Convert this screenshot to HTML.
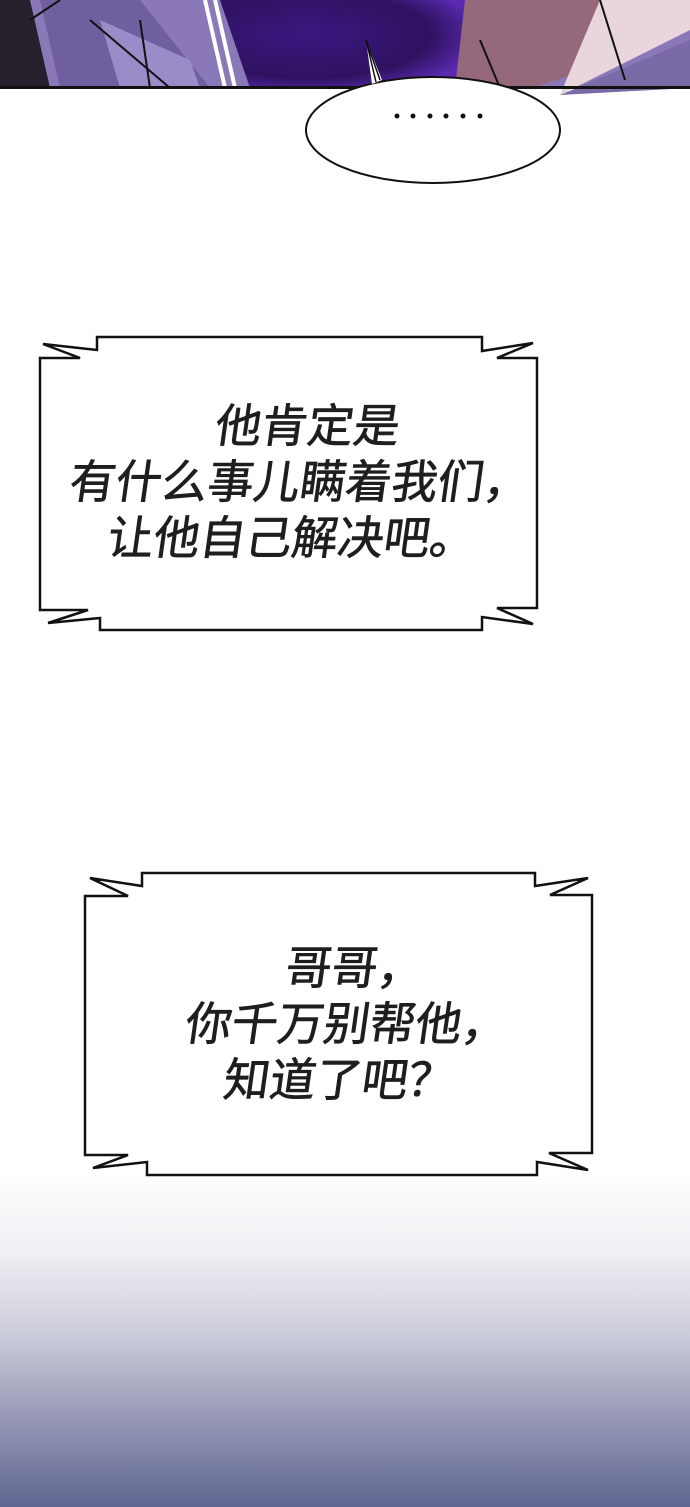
<!DOCTYPE html>
<html><head><meta charset="utf-8"><style>
html,body{margin:0;padding:0}
body{width:690px;height:1507px;position:relative;overflow:hidden;background:#fff;font-family:"Liberation Sans","Noto Sans CJK SC",sans-serif}
.t{position:absolute;left:0;width:690px;text-align:center;font-size:46px;color:#1e1e1e;line-height:56px;transform:skewX(-8deg);-webkit-text-stroke:0.7px #1e1e1e}
</style></head><body>
<div style="position:absolute;left:0;top:1170px;width:690px;height:337px;background:linear-gradient(#fff 0%,#eeeff3 25%,#c9cad8 50%,#9a9bb8 72%,#5e6690 100%)"></div>
<svg width="690" height="1507" style="position:absolute;left:0;top:0">
<defs><radialGradient id="g" cx="0.35" cy="0.4" r="0.7"><stop offset="0" stop-color="#3a1880"/><stop offset="0.7" stop-color="#2e1260"/><stop offset="1" stop-color="#5a2ab0"/></radialGradient></defs>
<rect x="0" y="0" width="690" height="88" fill="#8a78b8"/>
<polygon points="0,0 30,0 50,88 0,88" fill="#25202c"/>
<polygon points="40,0 140,0 210,88 60,88" fill="#6f5ea0"/>
<polygon points="100,20 190,60 200,88 120,88" fill="#9a8cc8"/>
<polygon points="220,0 470,0 460,88 250,88" fill="url(#g)"/>
<polygon points="465,0 640,0 620,60 530,88 455,88" fill="#96687c"/>
<polygon points="600,0 690,0 690,30 560,95" fill="#e9d6dc"/>
<polygon points="560,95 690,40 690,88" fill="#7a6aa8"/>
<path d="M205,0 L225,88 M215,0 L235,88" stroke="#fff" stroke-width="4"/>
<path d="M30,20 L60,0 M90,20 L170,88 M140,20 L150,88 M480,40 L500,88 M600,0 L625,80" stroke="#111" stroke-width="2" fill="none"/>
<rect x="0" y="86" width="690" height="3" fill="#111"/>
<ellipse cx="433" cy="130" rx="127" ry="53" fill="#fff" stroke="#111" stroke-width="2"/>
<polygon points="366,40 382,80 372,84" fill="#fff"/>
<path d="M366,40 L380,80 M366,40 L376,82" stroke="#111" stroke-width="1.5"/>
<g fill="#111"><circle cx="397" cy="116" r="2.5"/><circle cx="413" cy="116" r="2.5"/><circle cx="430" cy="116" r="2.5"/><circle cx="446" cy="116" r="2.5"/><circle cx="463" cy="116" r="2.5"/><circle cx="480" cy="116" r="2.5"/></g>
<polygon fill="#fff" stroke="#111" stroke-width="2.5" stroke-linejoin="miter" points="97,337 482,337 482,351 533,343 497,358 537,358 537,608 497,608 533,624 482,617 482,630 100,630 100,618 48,623 88,610 40,610 40,358 80,358 43,344 97,350"/>
<polygon fill="#fff" stroke="#111" stroke-width="2.5" stroke-linejoin="miter" points="142,873 535,873 535,886 588,878 550,895 592,895 592,1153 549,1153 588,1170 537,1162 537,1175 147,1175 147,1162 93,1168 128,1155 85,1155 85,896 128,896 90,878 142,886"/>
</svg>
<div class="t" style="left:-45px;top:398px">他肯定是<br>有什么事儿瞒着我们，<br>让他自己解决吧。</div>
<div class="t" style="left:2px;top:940px">哥哥，<br>你千万别帮他，<br>知道了吧？</div>
</body></html>
